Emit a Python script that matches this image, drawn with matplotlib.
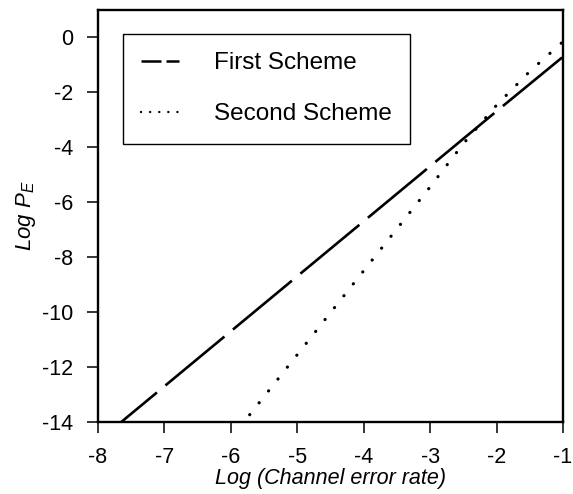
import matplotlib
matplotlib.use("Agg")
import matplotlib.pyplot as plt
from matplotlib.lines import Line2D

plt.rcParams['font.family'] = ['Liberation Sans', 'DejaVu Sans']
plt.rcParams['mathtext.fontset'] = 'custom'
plt.rcParams['mathtext.it'] = 'Liberation Sans:italic'
plt.rcParams['mathtext.rm'] = 'Liberation Sans'
plt.rcParams['axes.unicode_minus'] = False

# log10 of channel error rate vs log10 of P_E
x_first = [-8, -7, -6, -5, -4, -3, -2, -1]
pe_first = [-14.7, -12.7, -10.7, -8.7, -6.7, -4.7, -2.7, -0.72]

x_second = [-6, -5, -4, -3, -2.5, -2, -1.5, -1]
pe_second = [-14.6, -11.55, -8.5, -5.45, -3.88, -2.48, -1.25, -0.17]

labels = ["First Scheme", "Second Scheme"]

fig = plt.figure(figsize=(5.73, 4.94), dpi=100)
ax = fig.add_axes([0.171, 0.1457, 0.8115, 0.834])

ax.plot(x_first, pe_first, color='black', lw=1.9, dashes=(29, 4.2))
ax.plot(x_second, pe_second, color='black', lw=2.3,
        dashes=(0.05, 4.7), dash_capstyle='round')

ax.set_xlim(-8, -1)
ax.set_ylim(-14, 0.98)
ax.set_xticks(range(-8, 0))
ax.set_yticks(range(-14, 1, 2))

for s in ax.spines.values():
    s.set_linewidth(1.7)
ax.tick_params(direction='out', length=8, width=1.1, labelsize=15.5, pad=10)

ax.set_xlabel("Log (Channel error rate)", fontsize=15.5, style='italic', labelpad=0)
ax.set_ylabel(r"$Log\ P_E$", fontsize=16, labelpad=3)

# legend proxies use shorter dash patterns than the curves
h1 = Line2D([], [], color='black', lw=1.8, dashes=(8, 2))
h2 = Line2D([], [], color='black', lw=1.7, dashes=(0.05, 3.8), dash_capstyle='round')
leg = ax.legend([h1, h2], labels, loc='upper left', bbox_to_anchor=(0.054, 0.942),
                borderaxespad=0, fontsize=17.5, frameon=True, fancybox=False,
                edgecolor='black', framealpha=1, borderpad=0.75, labelspacing=1.2,
                handlelength=1.56, handletextpad=1.44)
leg.get_frame().set_linewidth(1.0)

fig.savefig("out.png", dpi=100)
